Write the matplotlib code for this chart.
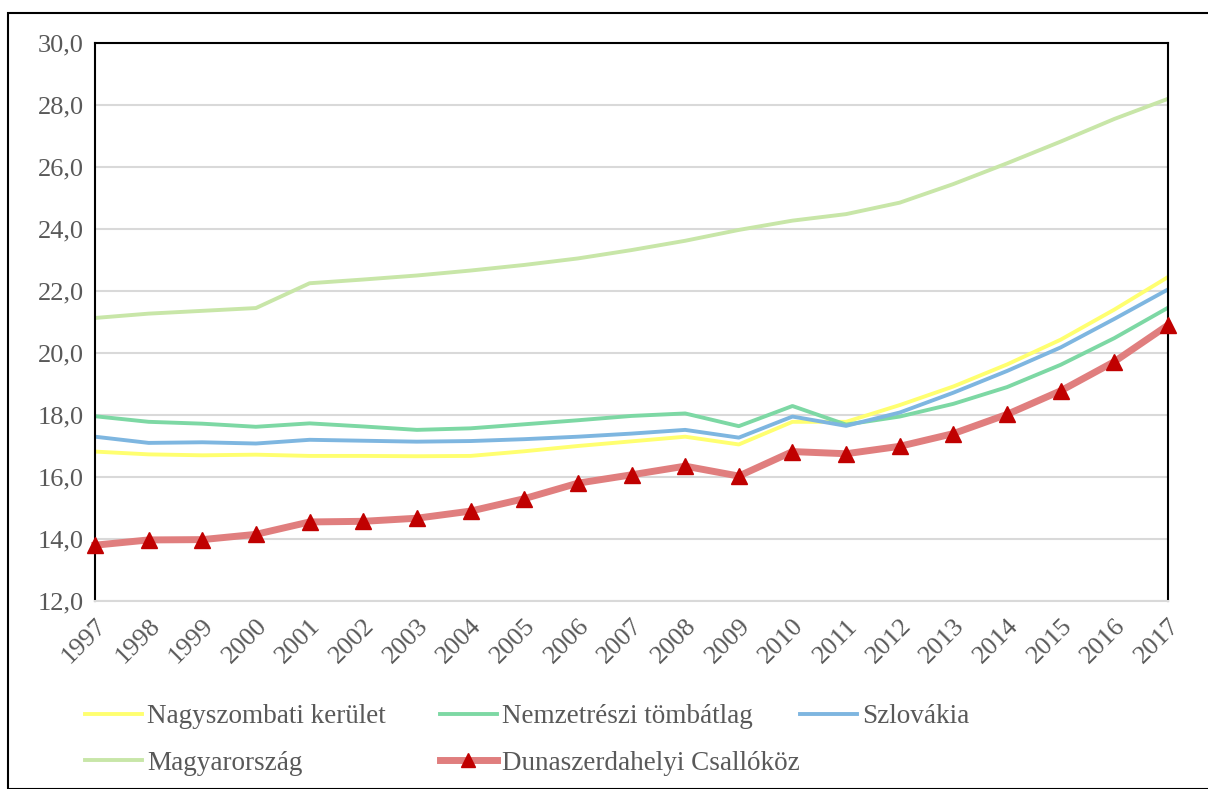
import matplotlib.pyplot as plt
from matplotlib.patches import Rectangle
from matplotlib.ticker import FuncFormatter, MultipleLocator

plt.rcParams['font.family'] = ['Liberation Serif', 'DejaVu Serif']

years = list(range(1997, 2018))

nagyszombati = [16.82, 16.73, 16.70, 16.72, 16.68, 16.68, 16.67, 16.68, 16.83, 17.00, 17.15,
                17.30, 17.05, 17.78, 17.78, 18.32, 18.92, 19.63, 20.43, 21.40, 22.45]
nemzetreszi = [17.96, 17.78, 17.72, 17.62, 17.73, 17.63, 17.52, 17.57, 17.70, 17.83, 17.97,
               18.05, 17.64, 18.29, 17.69, 17.95, 18.36, 18.90, 19.62, 20.48, 21.46]
szlovakia = [17.30, 17.10, 17.12, 17.08, 17.20, 17.17, 17.14, 17.16, 17.22, 17.30, 17.40,
             17.52, 17.27, 17.95, 17.65, 18.08, 18.72, 19.42, 20.18, 21.10, 22.05]
magyarorszag = [21.13, 21.27, 21.36, 21.45, 22.25, 22.37, 22.50, 22.66, 22.84, 23.05, 23.32,
                23.62, 23.97, 24.27, 24.48, 24.85, 25.45, 26.12, 26.82, 27.55, 28.20]
dunaszerdahelyi = [13.80, 13.97, 13.98, 14.15, 14.55, 14.57, 14.67, 14.90, 15.30, 15.80, 16.07,
                   16.35, 16.03, 16.82, 16.75, 16.99, 17.40, 18.02, 18.78, 19.72, 20.90]

grey_txt = '#595959'

fig = plt.figure(figsize=(12.08, 7.89), dpi=100)
ax = fig.add_axes([95 / 1208, 1 - 601 / 789, 1073 / 1208, 558 / 789])

l1, = ax.plot(years, nagyszombati, color='#FFFF70', lw=2.8, label='Nagyszombati kerület')
l2, = ax.plot(years, nemzetreszi, color='#7DD8A4', lw=2.8, label='Nemzetrészi tömbátlag')
l3, = ax.plot(years, szlovakia, color='#7EB6E0', lw=2.8, label='Szlovákia')
l4, = ax.plot(years, magyarorszag, color='#C8E6A8', lw=2.8, label='Magyarország')
l5, = ax.plot(years, dunaszerdahelyi, color='#E07E7E', lw=5, marker='^', markersize=12,
              markerfacecolor='#C00000', markeredgecolor='#C00000',
              label='Dunaszerdahelyi Csallóköz', zorder=5, clip_on=False)

ax.set_xlim(1997, 2017)
ax.set_ylim(12, 30)
ax.yaxis.set_major_locator(MultipleLocator(2))
ax.yaxis.set_major_formatter(FuncFormatter(lambda v, p: f'{v:.1f}'.replace('.', ',')))
ax.set_xticks(years)
ax.set_xticklabels([str(y) for y in years], rotation=45, ha='right', rotation_mode='anchor')
ax.tick_params(axis='both', length=0, labelsize=19, colors=grey_txt, pad=8)
ax.tick_params(axis='x', pad=10)
ax.grid(axis='y', color='#D9D9D9', lw=1.5)
ax.set_axisbelow(True)
for s in ['left', 'top', 'right']:
    ax.spines[s].set_color('black')
    ax.spines[s].set_linewidth(1.5)
ax.spines['bottom'].set_color('#D9D9D9')
ax.spines['bottom'].set_linewidth(1.5)

# Excel-style legend: three equal-width columns
for handles, x0 in [([l1, l4], 85), ([l2, l5], 440), ([l3], 800)]:
    fig.legend(handles=handles, loc='upper left', bbox_to_anchor=(x0 / 1208, 1 - 704 / 789),
               frameon=False, fontsize=19.5, labelcolor=grey_txt, borderpad=0,
               borderaxespad=0, handlelength=2.1, handletextpad=0.2,
               labelspacing=0.8, markerscale=0.8)

fig.patches.append(Rectangle((8 / 1208, 0), 1.2, 1 - 13 / 789, transform=fig.transFigure,
                             fill=False, edgecolor='black', lw=1.5))

fig.savefig('out.png', dpi=100)
